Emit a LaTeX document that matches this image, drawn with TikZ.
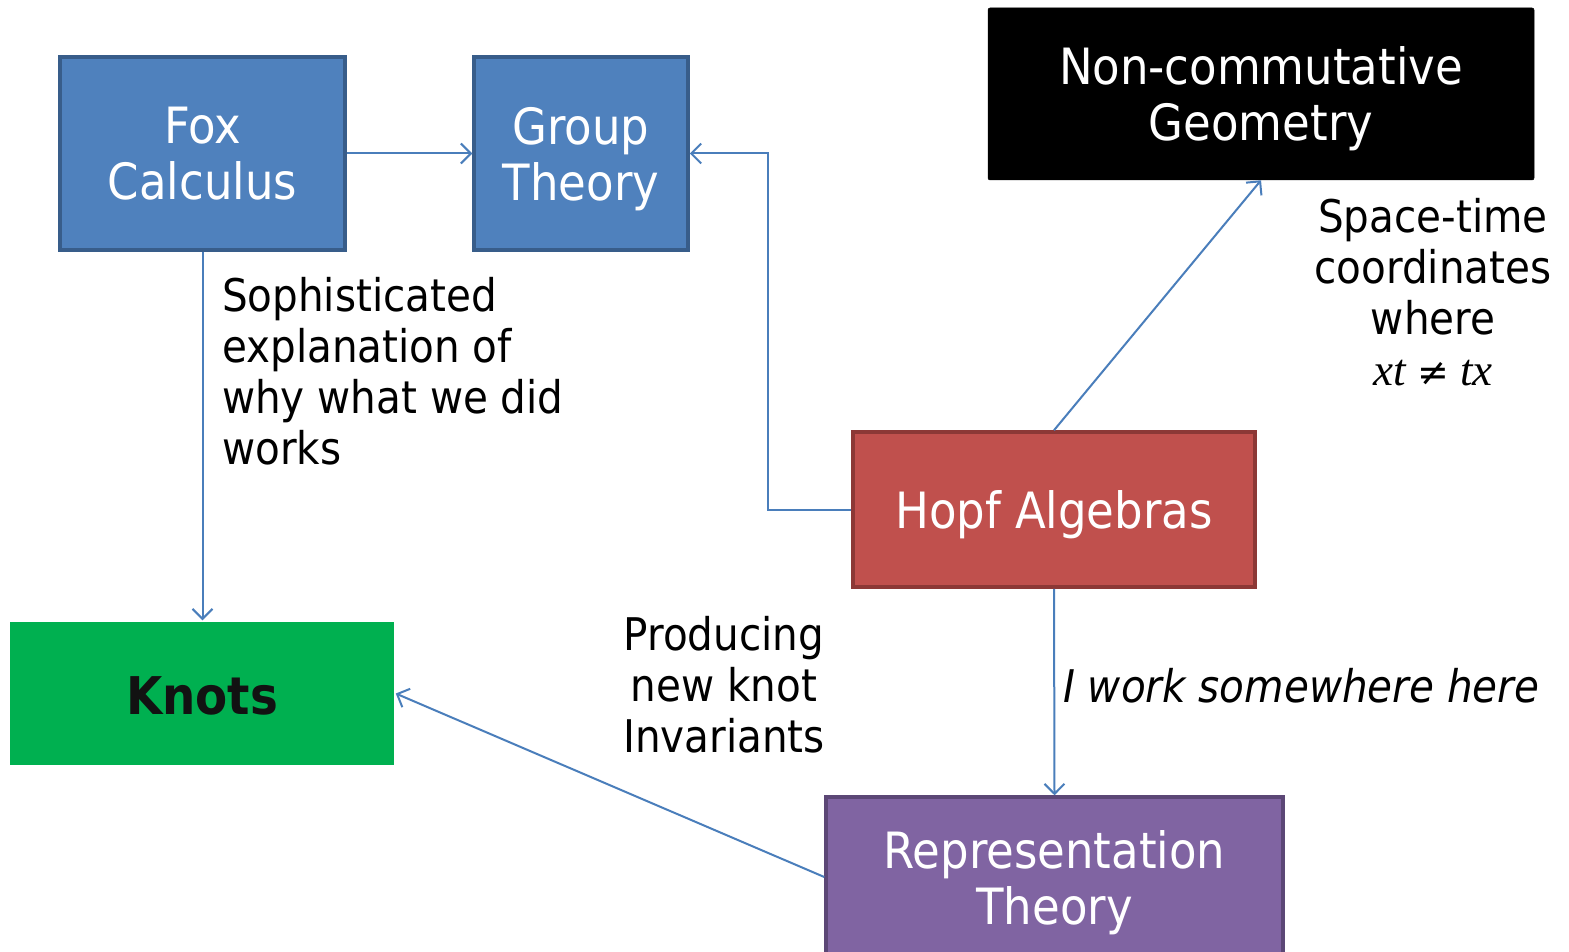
\documentclass[tikz,border=0pt]{standalone}
\usepackage{fontspec}
\setmainfont{DejaVu Sans Condensed}
\newfontfamily\formulafont{Liberation Serif}
\newfontfamily\symbolfont{DejaVu Sans}
\usetikzlibrary{arrows.meta}
\definecolor{foxblue}{HTML}{4F81BD}
\definecolor{foxedge}{HTML}{385D8A}
\definecolor{hopfred}{HTML}{C0504D}
\definecolor{hopfedge}{HTML}{8C3836}
\definecolor{repviolet}{HTML}{8064A2}
\definecolor{repedge}{HTML}{5C4776}
\definecolor{knotgreen}{HTML}{00B050}
\definecolor{linkblue}{HTML}{4A7EBB}
\tikzset{
  box/.style={draw, line width=3.5pt, align=center, text=white, inner sep=0pt,
    text depth=0pt, font=\fontsize{50}{56}\selectfont},
  lbl/.style={text=black, inner sep=0pt, font=\fontsize{45}{51}\selectfont},
  conn/.style={draw=linkblue, line width=2pt,
    -{Straight Barb[length=10pt,width=20pt]}}
}
\begin{document}
\begin{tikzpicture}[x=1pt,y=-1pt]
\path[use as bounding box] (0,0) rectangle (1569,952);
\clip (0,0) rectangle (1569,952);
\fill[white] (0,0) rectangle (1569,952);

% boxes
\node[box, fill=foxblue, draw=foxedge, minimum width=285pt, minimum height=193pt]
  (fox) at (202.5,153.5) {Fox\\Calculus};
\node[box, fill=foxblue, draw=foxedge, minimum width=214pt, minimum height=193pt]
  (group) at (581,153.5) {Group\\Theory};
\node[box, fill=black, draw=black, line width=0.5pt, rounded corners=2pt,
  minimum width=546pt, minimum height=172pt]
  (ncg) at (1261,94) {Non-commutative\\Geometry};
\node[box, fill=hopfred, draw=hopfedge, minimum width=402pt, minimum height=155pt]
  (hopf) at (1054,509.5) {Hopf Algebras};
\node[box, fill=knotgreen, draw=none, text={black!93}, minimum width=384pt, minimum height=143pt,
  font=\fontsize{52}{56}\selectfont\bfseries]
  (knots) at (202,693.5) {\raisebox{-4pt}{Knots}};
\node[box, fill=repviolet, draw=repedge, minimum width=457pt, minimum height=160pt]
  (rep) at (1054.5,877) {Representation\\Theory};

% labels
\node[lbl, align=left, anchor=west] (soph) at (222,371)
  {Sophisticated\\explanation of\\why what we did\\works};
\node[lbl, align=center] (spacetime) at (1433,292)
  {Space-time\\coordinates\\where\\{\formulafont\itshape xt {\symbolfont\fontsize{38}{40}\selectfont ≠} tx}};
\node[lbl, align=center] (producing) at (724,685)
  {Producing\\new knot\\Invariants};
\node[lbl, anchor=west, font=\fontsize{45}{51}\selectfont\itshape] (iwork) at (1063,686)
  {I work somewhere here};

% connectors
\draw[conn] (fox.east) -- (group.west);
\draw[conn] (hopf.west) -- ++(-83,0) |- (group.east);
\draw[conn] (fox.south) -- (fox.south |- knots.north);
\draw[conn] (hopf.north) -- (ncg.south);
\draw[conn] (hopf.south) -- (rep.north);
\draw[conn] (rep.west) -- (knots.east);
\end{tikzpicture}
\end{document}
